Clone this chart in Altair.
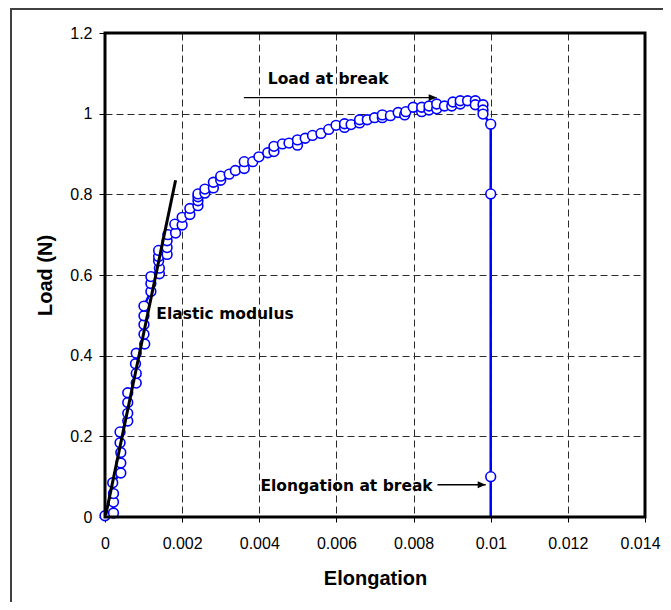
import altair as alt
import pandas as pd

# Load-elongation measurements (markers)
elong = [0.0, 0.00022, 0.00022, 0.00022, 0.0002, 0.00041, 0.00041, 0.00041, 0.00039, 0.00039,
         0.00059, 0.00059, 0.00059, 0.00059, 0.00081, 0.00081, 0.00079, 0.00081, 0.00103, 0.00101,
         0.00101, 0.00101, 0.00101, 0.00119, 0.00119, 0.00119, 0.00141, 0.00141, 0.00139, 0.00139,
         0.00139, 0.00161, 0.00161, 0.00161, 0.00163, 0.00183, 0.00181, 0.0020, 0.0020, 0.0022,
         0.0022, 0.00241, 0.00241, 0.00241, 0.00241, 0.00259, 0.00259, 0.00281, 0.00281, 0.0030,
         0.0030, 0.00322, 0.00338, 0.00361, 0.00361, 0.00383, 0.00399, 0.00422, 0.00438, 0.00438,
         0.0046, 0.00477, 0.00499, 0.00499, 0.00519, 0.00538, 0.0056, 0.0058, 0.00599, 0.00621,
         0.00621, 0.00638, 0.0066, 0.0066, 0.0068, 0.00699, 0.00719, 0.00719, 0.0074, 0.0076,
         0.00777, 0.0078, 0.00799, 0.00821, 0.00821, 0.0084, 0.0084, 0.0086, 0.0086, 0.0088,
         0.00899, 0.00902, 0.00921, 0.00921, 0.0094, 0.0096, 0.0096, 0.0098, 0.0098, 0.0098,
         0.01, 0.01, 0.01]
load = [0.003, 0.010, 0.037, 0.058, 0.085, 0.109, 0.134, 0.160, 0.184, 0.211,
        0.238, 0.257, 0.284, 0.308, 0.332, 0.356, 0.380, 0.406, 0.429, 0.453,
        0.477, 0.499, 0.523, 0.559, 0.579, 0.596, 0.603, 0.617, 0.635, 0.646,
        0.661, 0.651, 0.668, 0.685, 0.700, 0.704, 0.726, 0.724, 0.743, 0.750,
        0.765, 0.772, 0.784, 0.794, 0.801, 0.803, 0.813, 0.816, 0.830, 0.835,
        0.845, 0.850, 0.859, 0.864, 0.881, 0.881, 0.893, 0.903, 0.906, 0.919,
        0.925, 0.927, 0.922, 0.935, 0.939, 0.946, 0.951, 0.961, 0.971, 0.966,
        0.975, 0.973, 0.977, 0.985, 0.985, 0.990, 0.990, 0.997, 0.995, 1.003,
        0.997, 1.005, 1.016, 1.005, 1.016, 1.009, 1.019, 1.012, 1.024, 1.019,
        1.019, 1.029, 1.024, 1.032, 1.032, 1.032, 1.022, 1.022, 1.009, 0.999,
        0.974, 0.801, 0.100]
# end of the break line (no marker)
break_end_x = [0.01]
break_end_y = [0.0]

# Elastic modulus tangent line
modulus_x = [0.00002, 0.00183]
modulus_y = [0.005, 0.835]

# Annotations
note_text = ["Load at break", "Elongation at break", "Elastic modulus"]
note_x = [0.00422, 0.00403, 0.00133]
note_y = [1.087, 0.077, 0.503]
arrow_x1 = [0.0036, 0.00862]
arrow_x2 = [0.0086, 0.00987]
arrow_y = [1.040, 0.080]

x_ticks = [0, 0.002, 0.004, 0.006, 0.008, 0.01, 0.012, 0.014]
y_ticks = [0, 0.2, 0.4, 0.6, 0.8, 1.0, 1.2]

pts = pd.DataFrame({"x": elong, "y": load})
line_df = pd.DataFrame({"x": elong + break_end_x, "y": load + break_end_y})
line_df["i"] = range(len(line_df))
mod_df = pd.DataFrame({"x": modulus_x, "y": modulus_y})
notes = pd.DataFrame({"t": note_text, "x": note_x, "y": note_y})
arrows = pd.DataFrame({"x1": arrow_x1, "x2": arrow_x2, "y": arrow_y})
one = pd.DataFrame({"k": [0]})

xs = alt.Scale(domain=[0, 0.014], nice=False, zero=False)
ys = alt.Scale(domain=[0, 1.2], nice=False, zero=False)

xaxis = alt.Axis(values=x_ticks, format="~g", title="Elongation", grid=True,
                 gridDash=[7, 4], gridColor="#2a2a2a", gridWidth=1,
                 domain=False, tickColor="black", tickSize=5, labelPadding=13,
                 labelFont="Liberation Sans", labelFontSize=16, labelColor="black",
                 titleFont="Liberation Sans", titleFontSize=20, titleFontWeight="bold",
                 titleColor="black", titlePadding=17, labelFlush=False,
                 labelOffset={"condition": {"test": "datum.value >= 0.0139", "value": -5},
                              "value": 0})
yaxis = alt.Axis(values=y_ticks, format="~g", title="Load (N)", grid=True,
                 gridDash=[7, 4], gridColor="#2a2a2a", gridWidth=1,
                 domain=False, tickColor="black", tickSize=6, labelPadding=7,
                 labelFont="Liberation Sans", labelFontSize=16, labelColor="black",
                 titleFont="Liberation Sans", titleFontSize=20, titleFontWeight="bold",
                 titleColor="black", titlePadding=14, labelFlush=False)

border = alt.Chart(one).mark_rect(
    fill=None, stroke="#404040", strokeWidth=2
).encode(x=alt.value(-94), x2=alt.value(800), y=alt.value(-24), y2=alt.value(800))

base_line = alt.Chart(line_df).mark_line(color="#0000ff", strokeWidth=2.5).encode(
    x=alt.X("x:Q", scale=xs, axis=xaxis),
    y=alt.Y("y:Q", scale=ys, axis=yaxis),
    order="i:Q",
)

points = alt.Chart(pts).mark_point(
    shape="circle", size=95, filled=True, fill="white", stroke="#0000ff",
    strokeWidth=1.6, opacity=1
).encode(x=alt.X("x:Q", scale=xs), y=alt.Y("y:Q", scale=ys))

modulus = alt.Chart(mod_df).mark_line(color="black", strokeWidth=3).encode(
    x=alt.X("x:Q", scale=xs), y=alt.Y("y:Q", scale=ys)
)

arrow_lines = alt.Chart(arrows).mark_rule(color="black", strokeWidth=1.3).encode(
    x=alt.X("x1:Q", scale=xs), x2="x2:Q", y=alt.Y("y:Q", scale=ys)
)
arrow_heads = alt.Chart(arrows).mark_point(
    shape="M0,0 L-2,-0.85 L-2,0.85 Z", size=64, filled=True, color="black", opacity=1
).encode(x=alt.X("x2:Q", scale=xs), y=alt.Y("y:Q", scale=ys))

texts = alt.Chart(notes).mark_text(
    align="left", baseline="middle", font="Comic Sans MS, DejaVu Sans",
    fontSize=15.5, fontWeight="bold", color="black"
).encode(x=alt.X("x:Q", scale=xs), y=alt.Y("y:Q", scale=ys), text="t:N")

frame = alt.Chart(one).mark_rect(
    fill=None, stroke="black", strokeWidth=3
).encode(x=alt.value(0), x2=alt.value(540), y=alt.value(0), y2=alt.value(484))

chart = alt.layer(
    border, base_line, points, modulus, arrow_lines, arrow_heads, texts, frame
).properties(
    width=540, height=484,
    autosize=alt.AutoSizeParams(type="none"),
    padding={"left": 97, "top": 25, "right": 18, "bottom": 85},
).configure_view(stroke=None)

chart.save("out.html", embed_options={"renderer": "svg", "actions": False})
